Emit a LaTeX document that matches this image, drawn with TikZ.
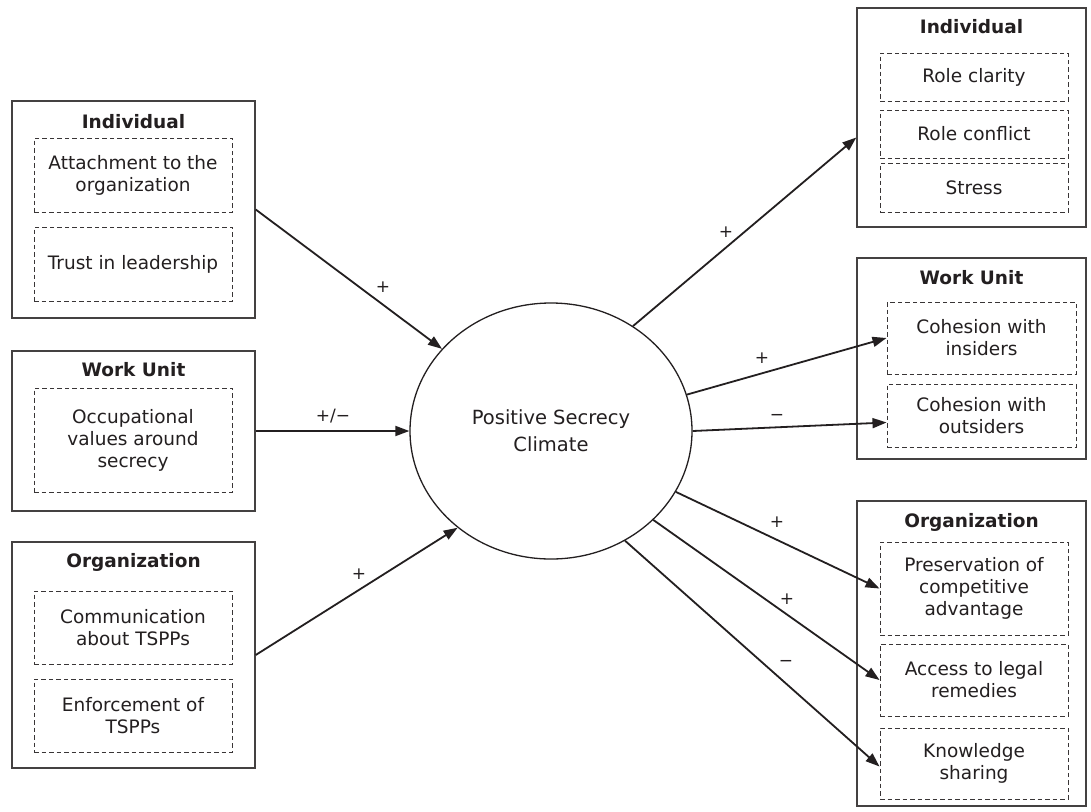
\documentclass[tikz,border=0pt]{standalone}
\usepackage{fontspec}
\setmainfont{DejaVu Sans}
\usetikzlibrary{arrows.meta,shapes.geometric}
\definecolor{ink}{RGB}{35,31,32}
\begin{document}
\begin{tikzpicture}[x=1pt,y=-1pt,
  outerbox/.style={draw=ink!85, line width=1.4pt, inner sep=0pt},
  dbox/.style={draw=ink!90, dash pattern=on 4.5pt off 3pt, line width=1pt, align=center,
    font=\fontsize{18.5}{22}\selectfont, text=ink, inner sep=0pt},
  ttl/.style={font=\fontsize{18.5}{22}\selectfont\bfseries, text=ink},
  arr/.style={-{Triangle[length=14pt,width=10pt]}, line width=1.8pt, draw=ink},
  lab/.style={font=\fontsize{17}{20}\selectfont, text=ink}]
\useasboundingbox[fill=white] (0,0) rectangle (1091,811);

% ---------- left side ----------
\node[outerbox, minimum width=243pt, minimum height=217pt] (LI) at (133.5,209.5) {};
\node[ttl] (LIt) at (133.5,122) {Individual};
\node[dbox, minimum width=198pt, minimum height=74pt] (LI1) at (133,175) {Attachment to the\\organization};
\node[dbox, minimum width=198pt, minimum height=74pt] (LI2) at (133,264) {Trust in leadership};

\node[outerbox, minimum width=243pt, minimum height=160pt] (LW) at (133.5,431) {};
\node[ttl] (LWt) at (133.5,370) {Work Unit};
\node[dbox, minimum width=198pt, minimum height=104pt] (LW1) at (133,440) {Occupational\\values around\\secrecy};

\node[outerbox, minimum width=243pt, minimum height=226pt] (LO) at (133.5,655) {};
\node[ttl] (LOt) at (133.5,562) {Organization};
\node[dbox, minimum width=198pt, minimum height=73pt] (LO1) at (133,627.5) {Communication\\about TSPPs};
\node[dbox, minimum width=198pt, minimum height=73pt] (LO2) at (133,715.5) {Enforcement of\\TSPPs};

% ---------- centre ----------
\node[ellipse, draw=ink, line width=1.3pt, minimum width=282pt, minimum height=256pt,
  inner sep=0pt, align=center, text=ink, font=\fontsize{19.5}{27}\selectfont] (C) at (551,431)
  {Positive Secrecy\\Climate};

% ---------- right side ----------
\node[outerbox, minimum width=229pt, minimum height=219pt] (RI) at (971.5,117.5) {};
\node[ttl] (RIt) at (971.5,27) {Individual};
\node[dbox, minimum width=188pt, minimum height=48pt] (RI1) at (974,77) {Role clarity};
\node[dbox, minimum width=188pt, minimum height=48pt] (RI2) at (974,134) {Role conflict};
\node[dbox, minimum width=188pt, minimum height=49pt] (RI3) at (974,187.5) {Stress};

\node[outerbox, minimum width=229pt, minimum height=201pt] (RW) at (971.5,358.5) {};
\node[ttl] (RWt) at (971.5,278) {Work Unit};
\node[dbox, minimum width=189pt, minimum height=72pt] (RW1) at (981.5,338) {Cohesion with\\insiders};
\node[dbox, minimum width=189pt, minimum height=63pt] (RW2) at (981.5,415.5) {Cohesion with\\outsiders};

\node[outerbox, minimum width=229pt, minimum height=305pt] (RO) at (971.5,653.5) {};
\node[ttl] (ROt) at (971.5,522) {Organization};
\node[dbox, minimum width=188pt, minimum height=93pt] (RO1) at (974,588.5) {Preservation of\\competitive\\advantage};
\node[dbox, minimum width=188pt, minimum height=72pt] (RO2) at (974,680) {Access to legal\\remedies};
\node[dbox, minimum width=188pt, minimum height=71pt] (RO3) at (974,763.5) {Knowledge\\sharing};

% ---------- connectors ----------
\draw[arr] (LI.east) -- (C.143);
\draw[arr] (LW.east) -- (C.180);
\draw[arr] (LO.east) -- (C.226);
\draw[arr] (C.52) -- ([yshift=-20pt]RI.west);
\draw[arr] (C.15.7) -- (RW1.west);
\draw[arr] (C.0) -- ([yshift=-7pt]RW2.west);
\draw[arr] (C.334) -- (RO1.west);
\draw[arr] (C.319) -- (RO2.west);
\draw[arr] (C.304) -- ([yshift=-3pt]RO3.west);

% ---------- labels ----------
\node[lab] (l1) at (383,287) {+};
\node[lab] (l2) at (333,416) {+/−};
\node[lab] (l3) at (359,574) {+};
\node[lab] (l4) at (726,232) {+};
\node[lab] (l5) at (762,358) {+};
\node[lab] (l6) at (777,417) {−};
\node[lab] (l7) at (777,522) {+};
\node[lab] (l8) at (787,599) {+};
\node[lab] (l9) at (786,663) {−};
\end{tikzpicture}
\end{document}
